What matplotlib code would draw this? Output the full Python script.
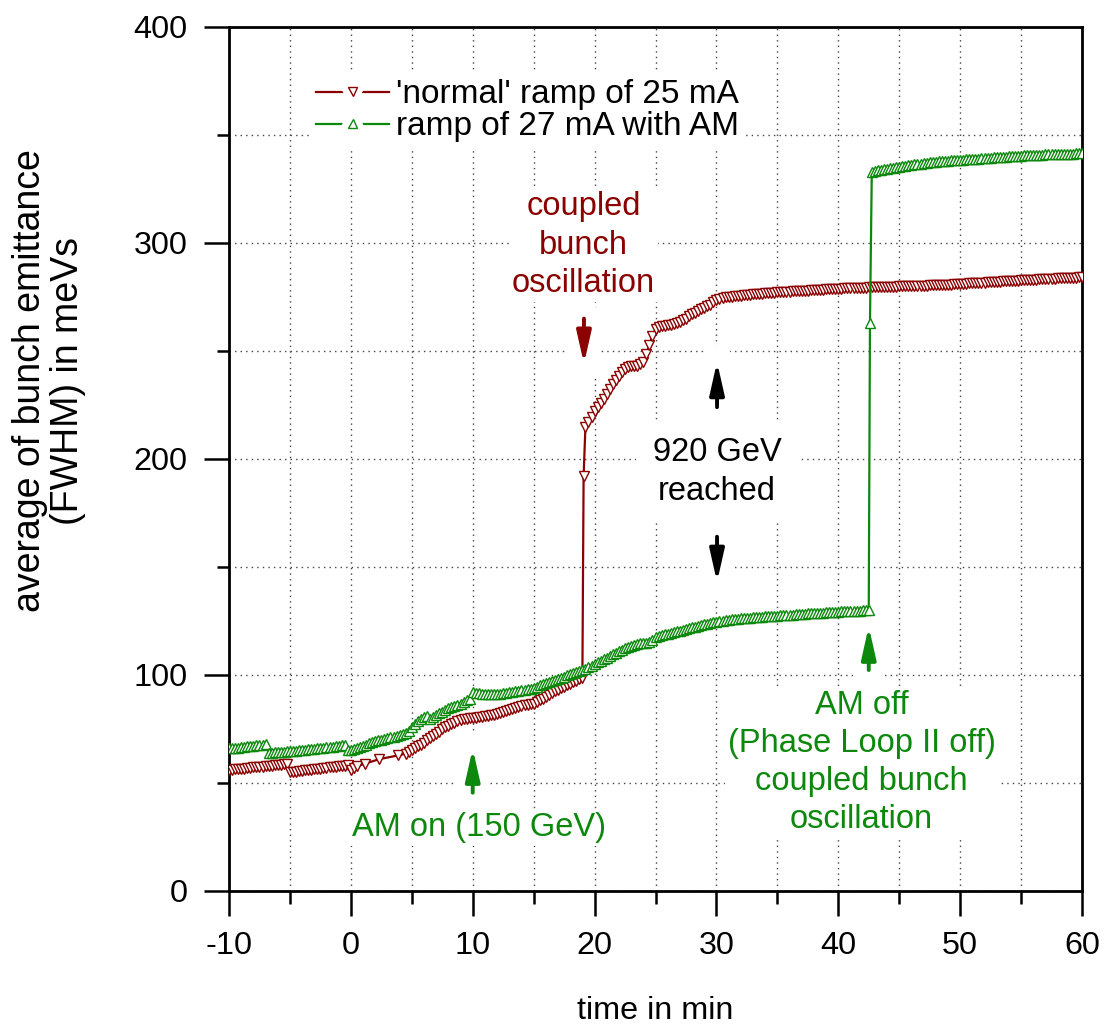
import numpy as np
import matplotlib
matplotlib.use("Agg")
import matplotlib.pyplot as plt
import matplotlib.patheffects as pe
from matplotlib.ticker import MultipleLocator

plt.rcParams['font.family'] = ['Liberation Sans', 'DejaVu Sans']

# ---------------- data ----------------
# 'normal' ramp of 25 mA
red_tA = np.arange(-10, -0.24, 0.25)
red_vA = [56.0, 56.1, 56.3, 56.4, 56.6, 56.7, 56.9, 57.0, 57.2, 57.3,
          57.5, 57.6, 57.8, 57.9, 58.1, 58.2, 58.4, 58.5, 58.7, 58.8,
          55.0, 55.2, 55.3, 55.5, 55.7, 55.8, 56.0, 56.2, 56.3, 56.5,
          56.7, 56.8, 57.0, 57.2, 57.3, 57.5, 57.7, 57.8, 58.0, 58.3]
red_tB = [0.0, 0.25, 0.5, 1.2, 2.3, 3.9, 4.5]
red_vB = [56.0, 57.0, 57.8, 59.0, 61.0, 62.8, 63.6]
red_tC = np.arange(4.75, 19.01, 0.25)
red_vC = [64.5, 65.5, 66.3, 67.0, 67.8, 68.7, 69.7, 70.8, 71.8, 72.8,
          73.8, 74.8, 75.7, 76.5, 77.2, 77.9, 78.5, 79.0, 79.4, 79.7,
          79.9, 80.1, 80.2, 80.4, 80.6, 80.8, 81.0, 81.3, 81.6, 82.0,
          82.4, 82.8, 83.3, 83.8, 84.3, 84.8, 85.3, 85.8, 86.1, 86.3,
          86.5, 86.8, 87.4, 88.2, 89.1, 90.0, 90.9, 91.7, 92.5, 93.2,
          93.9, 94.6, 95.3, 96.0, 96.7, 97.4, 98.1, 98.8]
red_t_jump = [19.1, 19.25]
red_v_jump = [192.0, 215.0]
red_tD = np.arange(19.5, 60.01, 0.25)
red_vD = [217.0, 219.5, 222.0, 224.0, 226.0, 228.0, 230.0, 232.3, 234.5, 236.5,
          238.5, 240.2, 241.5, 242.6, 243.0, 243.0, 243.1, 243.8, 245.0, 248.5,
          253.0, 257.0, 260.0, 261.0, 261.5, 261.8, 262.0, 262.2, 262.5, 263.0,
          263.5, 264.2, 265.0, 266.0, 267.0, 267.8, 268.5, 269.3, 270.0, 270.8,
          271.5, 272.5, 273.5, 274.1, 274.5, 274.8, 275.0, 275.2, 275.3, 275.5,
          275.6, 275.8, 275.9, 276.1, 276.2, 276.4, 276.5, 276.6, 276.7, 276.8,
          276.9, 277.0, 277.1, 277.2, 277.3, 277.4, 277.5, 277.6, 277.7, 277.8,
          277.9, 277.9, 278.0, 278.1, 278.2, 278.3, 278.4, 278.4, 278.5, 278.6,
          278.7, 278.7, 278.8, 278.9, 279.0, 279.0, 279.1, 279.1, 279.2, 279.2,
          279.3, 279.3, 279.4, 279.4, 279.5, 279.5, 279.6, 279.6, 279.7, 279.7,
          279.8, 279.8, 279.9, 279.9, 280.0, 280.0, 280.1, 280.1, 280.2, 280.2,
          280.3, 280.3, 280.4, 280.4, 280.5, 280.5, 280.6, 280.6, 280.7, 280.7,
          280.8, 280.9, 281.0, 281.1, 281.2, 281.3, 281.4, 281.4, 281.5, 281.6,
          281.7, 281.8, 281.9, 281.9, 282.0, 282.1, 282.2, 282.3, 282.4, 282.4,
          282.5, 282.6, 282.7, 282.8, 282.9, 282.9, 283.0, 283.1, 283.2, 283.2,
          283.3, 283.4, 283.5, 283.5, 283.6, 283.7, 283.8, 283.8, 283.9, 283.9,
          284.0, 284.1, 284.2]

# ramp of 27 mA with AM
grn_tA = np.arange(-10, 42.51, 0.25)
grn_vA = [66.0, 66.1, 66.3, 66.4, 66.6, 66.7, 66.9, 67.0, 67.2, 67.4,
          67.6, 67.8, 68.0, 64.0, 64.1, 64.2, 64.3, 64.4, 64.5, 64.6,
          64.7, 64.9, 65.0, 65.2, 65.3, 65.5, 65.6, 65.8, 65.9, 66.1,
          66.2, 66.4, 66.5, 66.7, 66.8, 67.0, 67.2, 67.4, 67.6, 65.2,
          65.5, 65.9, 66.3, 66.8, 67.3, 67.8, 68.3, 68.8, 69.3, 69.7,
          70.0, 70.4, 70.8, 71.2, 71.5, 71.9, 72.2, 72.6, 73.0, 74.0,
          76.0, 77.3, 78.5, 79.5, 80.5, 81.0, 79.5, 80.5, 81.5, 82.3,
          83.0, 83.8, 84.5, 85.2, 85.8, 86.3, 86.8, 87.5, 88.2, 88.8,
          92.0, 91.8, 91.6, 91.4, 91.2, 91.1, 91.0, 91.1, 91.2, 91.3,
          91.5, 91.7, 92.0, 92.2, 92.5, 92.7, 93.0, 93.2, 93.5, 93.7,
          94.0, 94.6, 95.2, 95.8, 96.4, 96.9, 97.4, 97.8, 98.2, 98.7,
          99.2, 99.8, 100.3, 100.8, 101.3, 101.8, 102.3, 103.0, 103.6, 104.3,
          105.0, 105.8, 106.5, 107.3, 108.0, 108.8, 109.5, 110.3, 111.0, 111.7,
          112.3, 112.9, 113.5, 113.9, 114.3, 114.6, 114.8, 115.0, 115.3, 116.3,
          117.5, 118.0, 118.5, 118.9, 119.2, 119.6, 119.9, 120.3, 120.6, 121.0,
          121.3, 121.7, 122.0, 122.4, 122.8, 123.2, 123.5, 123.8, 124.1, 124.4,
          124.7, 124.9, 125.2, 125.4, 125.6, 125.8, 125.9, 126.1, 126.2, 126.4,
          126.5, 126.6, 126.7, 126.8, 126.9, 127.0, 127.1, 127.2, 127.3, 127.4,
          127.5, 127.6, 127.7, 127.8, 127.9, 128.0, 128.1, 128.2, 128.3, 128.4,
          128.5, 128.6, 128.7, 128.8, 128.9, 128.9, 129.0, 129.1, 129.2, 129.2,
          129.3, 129.4, 129.5, 129.5, 129.6, 129.7, 129.8, 129.8, 129.9, 130.0,
          130.2]
grn_t_jump = [42.6, 42.75]
grn_v_jump = [263.0, 333.0]
grn_tB = np.arange(43, 60.01, 0.25)
grn_vB = [333.3, 333.6, 333.9, 334.1, 334.4, 334.6, 334.9, 335.1, 335.4, 335.6,
          335.8, 336.0, 336.2, 336.4, 336.6, 336.8, 337.0, 337.2, 337.3, 337.5,
          337.6, 337.8, 337.9, 338.0, 338.1, 338.2, 338.3, 338.4, 338.5, 338.6,
          338.7, 338.8, 338.9, 339.0, 339.1, 339.2, 339.3, 339.4, 339.5, 339.6,
          339.7, 339.8, 339.9, 340.0, 340.1, 340.2, 340.3, 340.4, 340.5, 340.6,
          340.7, 340.7, 340.8, 340.8, 340.9, 340.9, 341.0, 341.0, 341.1, 341.1,
          341.2, 341.2, 341.3, 341.3, 341.4, 341.4, 341.5, 341.5, 341.6]

red_t = np.concatenate([red_tA, red_tB, red_tC, red_t_jump, red_tD])
red_v = np.concatenate([red_vA, red_vB, red_vC, red_v_jump, red_vD])
grn_t = np.concatenate([grn_tA, grn_t_jump, grn_tB])
grn_v = np.concatenate([grn_vA, grn_v_jump, grn_vB])

x_ticks = [-10, 0, 10, 20, 30, 40, 50, 60]
y_ticks = [0, 100, 200, 300, 400]

RED = '#8b0000'
GRN = '#0c880c'

# ---------------- figure ----------------
fig = plt.figure(figsize=(11.05, 10.25), dpi=100)
ax = fig.add_axes([229/1105, 1 - 891/1025, (1082-229)/1105, (891-27)/1025])

ax.plot(red_t, red_v, color=RED, lw=1.6, marker='v', ms=7.0, mfc='white',
        mec=RED, mew=1.0, zorder=3, label="'normal' ramp of 25 mA")
ax.plot(grn_t, grn_v, color=GRN, lw=1.6, marker='^', ms=7.0, mfc='white',
        mec=GRN, mew=1.0, zorder=4, label="ramp of 27 mA with AM")

ax.set_xlim(-10, 60)
ax.set_ylim(0, 400)
ax.set_xticks(x_ticks)
ax.set_yticks(y_ticks)
ax.xaxis.set_minor_locator(MultipleLocator(5))
ax.yaxis.set_minor_locator(MultipleLocator(50))
ax.tick_params(axis='both', which='major', direction='out', length=18, width=1.8,
               labelsize=23.3)
ax.tick_params(axis='both', which='minor', direction='out', length=9, width=1.8)
ax.tick_params(axis='x', which='major', pad=11)
ax.tick_params(axis='y', which='major', pad=12)
ax.set_xticklabels([str(v) for v in x_ticks])
ax.set_yticklabels([str(v) for v in y_ticks])
for s in ax.spines.values():
    s.set_linewidth(2.0)

ax.grid(True, which='both', linestyle=(0, (1, 3)), color='#444444', lw=1.0)

leg = ax.legend(loc='upper left', bbox_to_anchor=(0.094, 0.947), fontsize=24,
                frameon=True, framealpha=1, facecolor='white', edgecolor='none',
                handlelength=2.2, handletextpad=0.2, labelspacing=0.03,
                borderpad=0.2, borderaxespad=0, numpoints=1, fancybox=False)
for ln in leg.get_lines():
    ln.set_markersize(6.5)
    ln.set_path_effects([pe.Stroke(linewidth=10, foreground='white'), pe.Normal()])

# ---------------- annotations ----------------
FS = 23.5
tb = dict(facecolor='white', edgecolor='none', pad=2)
ax.text(19.1, 299, 'coupled\nbunch\noscillation', color=RED, fontsize=FS,
        ha='center', va='center', linespacing=1.3, bbox=tb, zorder=5)
ax.text(30.05, 194, '920 GeV\nreached', color='black', fontsize=FS,
        ha='center', va='center', linespacing=1.3,
        bbox=dict(facecolor='white', edgecolor='none', pad=12), zorder=5)
ax.text(10.5, 29.5, 'AM on (150 GeV)', color=GRN, fontsize=FS,
        ha='center', va='center', bbox=tb, zorder=5)
ax.text(41.9, 59.5, 'AM off\n(Phase Loop II off)\ncoupled bunch\noscillation',
        color=GRN, fontsize=FS, ha='center', va='center', linespacing=1.3,
        bbox=tb, zorder=5)


def arrow(x, y0, y1, color):
    # white backing that interrupts the grid, then the arrow itself
    ax.annotate('', xy=(x, y1), xytext=(x, y0),
                arrowprops=dict(arrowstyle='-', color='white', lw=24,
                                shrinkA=0, shrinkB=0), zorder=2)
    ax.annotate('', xy=(x, y1), xytext=(x, y0),
                arrowprops=dict(arrowstyle='-|>,head_length=0.8,head_width=0.18',
                                color=color, lw=2.8, mutation_scale=24,
                                shrinkA=0, shrinkB=0), zorder=6)


arrow(19.13, 265, 244, RED)
arrow(30.05, 224, 245, 'black')
arrow(30.05, 164, 143, 'black')
arrow(10.0, 45.5, 66.0, GRN)
arrow(42.5, 102.3, 122.5, GRN)

# axis labels
fig.text(49/1105, 1 - 381/1025, 'average of bunch emittance\n(FWHM) in meVs',
         rotation=90, ha='center', va='center', fontsize=27, multialignment='center',
         linespacing=1.05)
fig.text(655/1105, 1 - 1011/1025, 'time in min', ha='center', va='center',
         fontsize=23.3)

fig.savefig('out.png', dpi=100)
